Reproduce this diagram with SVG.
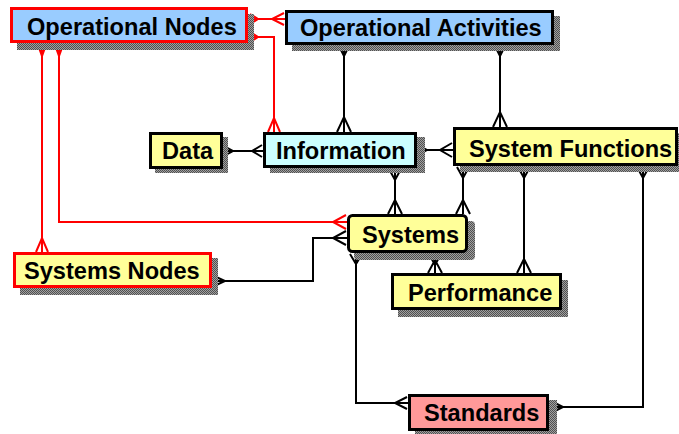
<svg xmlns="http://www.w3.org/2000/svg" width="679" height="434" viewBox="0 0 679 434">
<style>
.bx{stroke:#000;stroke-width:3}
.rb{stroke:#f00;stroke-width:3}
.sh{fill:url(#dots)}
.t{font-family:"Liberation Sans",Arial,sans-serif;font-weight:bold;font-size:23.6px;fill:#000}
.c{fill:none;stroke:#000;stroke-width:2}
.cr{fill:none;stroke:#f00;stroke-width:2}
</style>
<defs>
<pattern id="dots" width="2" height="2" patternUnits="userSpaceOnUse">
<rect width="2" height="2" fill="#a0a0a0"/>
<rect width="1" height="1" fill="#505050"/>
<rect x="1" y="1" width="1" height="1" fill="#505050"/>
</pattern>
</defs>
<rect width="679" height="434" fill="#fff"/>

<g id="connectors">
<path class="cr" d="M248,19 H285 M250,14 L258,19 L250,24 M284,13 L272,19 L284,25"/>
<path class="cr" d="M248,37 H274 V132 M250,32 L258,37 L250,42 M268,132 L274,118 L280,132 M274,118 V132"/>
<path class="cr" d="M59,45 V222 H347 M55,45 L59,56 L63,45 M346,215 L333,222 L346,229"/>
<path class="cr" d="M42,45 V252 M38,45 L42,56 L46,45 M36,252 L42,238 L48,252"/>
<path class="c" d="M344,45 V132 M339,46 L344,56 L349,46 M337,132 L344,117 L351,132"/>
<path class="c" d="M500,45 V127 M495,46 L500,56 L505,46 M493,127 L500,112 L507,127"/>
<path class="c" d="M223,151 H263 M224,146 L233,151 L224,156 M262,145 L252,151 L262,157"/>
<path class="c" d="M417,150 H453 M418,145 L427,150 L418,155 M452,143 L440,150 L452,157"/>
<path class="c" d="M395,168 V214 M389,169 L395,180 L401,169 M388,214 L395,200 L402,214"/>
<path class="c" d="M463,166 V214 M457,167 L463,178 L469,167 M456,214 L463,200 L470,214"/>
<path class="c" d="M524,166 V273 M518,167 L524,178 L530,167 M517,273 L524,259 L531,273"/>
<path class="c" d="M643,166 V407 H549 M637,167 L643,178 L649,167 M551,401 L563,407 L551,413"/>
<path class="c" d="M356,253 V403 H408 M350,254 L356,264 L362,254 M407,397 L395,403 L407,409"/>
<path class="c" d="M435,253 V273 M429,254 L435,265 L441,254 M428,273 L435,260 L442,273"/>
<path class="c" d="M212,281 H313 V238 H347 M214,276 L225,281 L214,286 M346,231 L333,238 L346,245"/>
</g>

<g id="op-nodes">
<rect class="sh" x="17" y="14" width="237" height="36"/>
<rect class="rb" x="11.5" y="8.5" width="235" height="33" fill="#99ccff"/>
<text class="t" x="27" y="35">Operational Nodes</text>
</g>
<g id="op-activities">
<rect class="sh" x="292" y="16" width="268" height="35"/>
<rect class="bx" x="286.5" y="11.5" width="266" height="32" fill="#99ccff"/>
<text class="t" x="300" y="36">Operational Activities</text>
</g>
<g id="data">
<rect class="sh" x="155" y="137" width="73" height="36"/>
<rect class="bx" x="150.5" y="133.5" width="71" height="34" fill="#ffff99"/>
<text class="t" x="162" y="159">Data</text>
</g>
<g id="information">
<rect class="sh" x="270" y="137" width="155" height="36"/>
<rect class="bx" x="264.5" y="133.5" width="151" height="33" fill="#ccffff"/>
<text class="t" x="276" y="159">Information</text>
</g>
<g id="system-functions">
<rect class="sh" x="460" y="133" width="219" height="39"/>
<rect class="bx" x="454.5" y="128.5" width="222" height="36" fill="#ffff99"/>
<text class="t" x="469" y="157">System Functions</text>
</g>
<g id="systems-nodes">
<rect class="sh" x="20" y="258" width="198" height="37"/>
<rect class="rb" x="14.5" y="253.5" width="196" height="33" fill="#ffff99"/>
<text class="t" x="24" y="279">Systems Nodes</text>
</g>
<g id="systems">
<rect class="sh" x="354" y="221" width="121" height="39" rx="4"/>
<rect class="bx" x="348.5" y="215.5" width="118" height="36" rx="4" fill="#ffff99"/>
<text class="t" x="362" y="243">Systems</text>
</g>
<g id="performance">
<rect class="sh" x="398" y="280" width="170" height="37"/>
<rect class="bx" x="392.5" y="274.5" width="168" height="34" fill="#ffff99"/>
<text class="t" x="408" y="301">Performance</text>
</g>
<g id="standards">
<rect class="sh" x="415" y="400" width="142" height="34"/>
<rect class="bx" x="409.5" y="395.5" width="138" height="34" fill="#ff9999"/>
<text class="t" x="424" y="421">Standards</text>
</g>
</svg>
